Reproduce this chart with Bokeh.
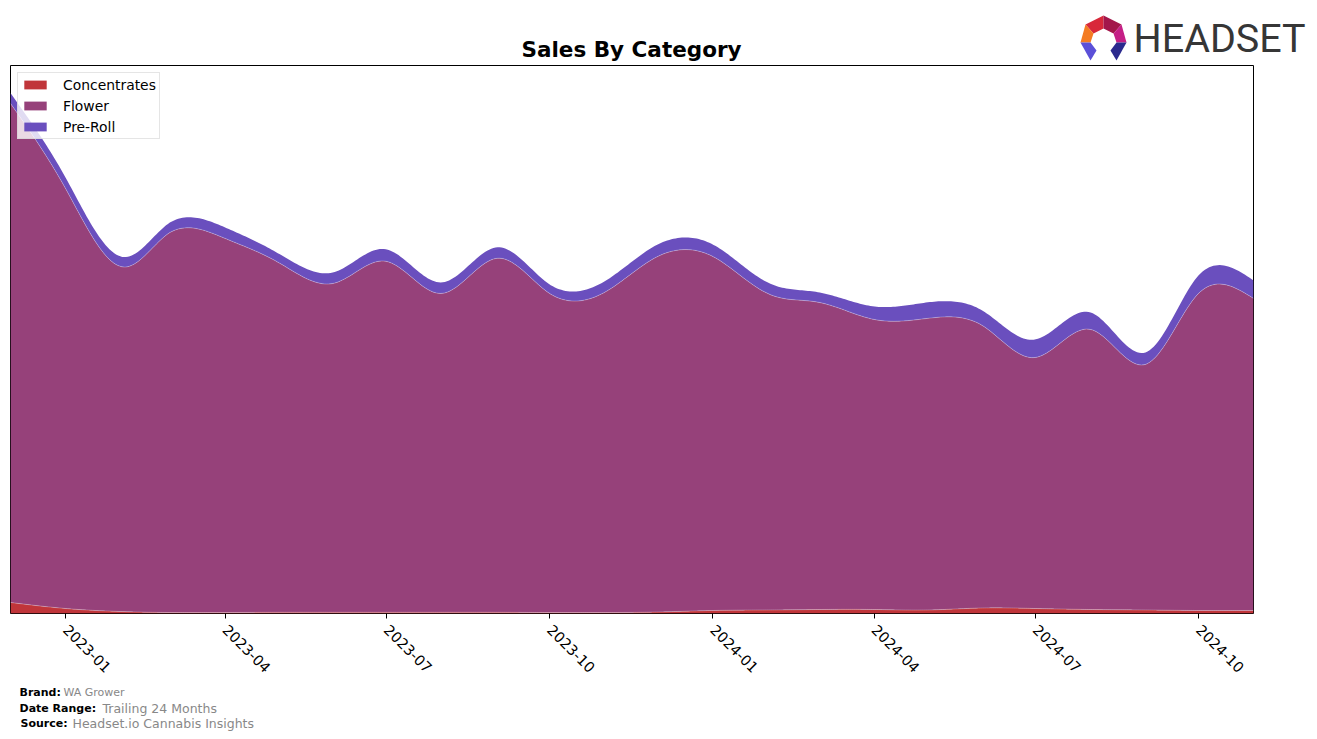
import numpy as np
import pandas as pd
from bokeh.plotting import figure
from bokeh.layouts import column
from bokeh.models import FixedTicker, DatetimeTickFormatter, Range1d, Legend, LegendItem
from bokeh.core.properties import value
from bokeh.embed import file_html
from bokeh.resources import INLINE

# ---------------- data ----------------
months = ["2022-12", "2023-01", "2023-02", "2023-03", "2023-04", "2023-05", "2023-06",
          "2023-07", "2023-08", "2023-09", "2023-10", "2023-11", "2023-12", "2024-01",
          "2024-02", "2024-03", "2024-04", "2024-05", "2024-06", "2024-07", "2024-08",
          "2024-09", "2024-10", "2024-11"]
concentrates = [1100, 500, 200, 100, 100, 120, 120, 120, 120, 120, 100, 100,
                150, 300, 350, 400, 400, 350, 550, 500, 400, 350, 300, 300]
flower = [49900, 42000, 34500, 38000, 37400, 34980, 32880, 35080, 31880, 35380, 31900, 32000,
          35550, 35400, 31650, 30700, 29000, 29150, 28250, 25100, 28000, 24550, 31700, 31200]
pre_roll = [1030, 1100, 1000, 1000, 1100, 900, 1100, 1200, 1100, 1100, 900, 1100,
            1200, 1200, 1100, 1000, 1300, 1600, 1500, 1800, 1700, 1200, 1800, 1800]
categories = ["Concentrates", "Flower", "Pre-Roll"]
colors = ["#C0353A", "#96417A", "#6A4FBE"]
tick_labels = ["2023-01", "2023-04", "2023-07", "2023-10", "2024-01", "2024-04", "2024-07", "2024-10"]

W, H = 1317, 739
TOP_H, FOOT_H = 64, 59
MAIN_H = H - TOP_H - FOOT_H

# ---------------- smoothing (natural cubic spline through monthly values) ----------------
def spline(y, t):
    y = np.asarray(y, float)
    n = len(y)
    A = np.zeros((n, n)); b = np.zeros(n)
    A[0, 0] = 1; A[-1, -1] = 1
    for i in range(1, n - 1):
        A[i, i - 1] = 1; A[i, i] = 4; A[i, i + 1] = 1
        b[i] = 6 * (y[i + 1] - 2 * y[i] + y[i - 1])
    M = np.linalg.solve(A, b)
    i = np.clip(np.floor(t).astype(int), 0, n - 2)
    u = t - i
    return ((1 - u) * y[i] + u * y[i + 1]
            + ((1 - u) ** 3 - (1 - u)) * M[i] / 6 + (u ** 3 - u) * M[i + 1] / 6)

dates = pd.to_datetime(months)
ms = dates.values.astype("datetime64[ms]").astype(np.int64).astype(float)
idx = np.arange(len(months))
t = np.linspace(0, len(months) - 1, 600)
xs = np.interp(t, idx, ms)

c_s = np.clip(spline(concentrates, t), 0, None)
f_s = np.clip(spline(flower, t), 0, None)
p_s = np.clip(spline(pre_roll, t), 0, None)
b1 = c_s
b2 = c_s + f_s
b3 = b2 + p_s

total_max = max(np.array(concentrates) + np.array(flower) + np.array(pre_roll))

# ---------------- header figure (title + logo) ----------------
top = figure(width=W, height=TOP_H, output_backend="svg", toolbar_location=None,
             x_axis_location=None, y_axis_location=None,
             x_range=Range1d(0, W), y_range=Range1d(TOP_H, 0),
             min_border=0, outline_line_color=None, frame_align=False)
top.grid.visible = False
top.text(x=[631], y=[49], text=["Sales By Category"], text_font=value("DejaVu Sans"),
         text_font_size="21.5px", text_font_style="bold", text_color="black",
         text_align="center", text_baseline="alphabetic")
top.text(x=[1133], y=[38], text=["HEADSET"], text_font=value("Roboto"),
         text_font_size="39.5px", text_color="#363636",
         text_align="left", text_baseline="alphabetic")
logo_parts = [
    ([1085, 1103, 1103, 1093], [24, 15, 28, 33], "#D8283A"),
    ([1103, 1121, 1113, 1103], [15, 24, 33, 28], "#A3164B"),
    ([1080, 1085, 1093, 1090], [42, 24, 33, 42], "#F47B22"),
    ([1121, 1126, 1116, 1113], [24, 42, 42, 33], "#C51F86"),
    ([1080, 1090, 1096, 1090], [42, 42, 50, 60], "#5B50D8"),
    ([1126, 1116, 1110, 1116], [42, 42, 50, 60], "#2B2A8E"),
]
for lx, ly, lc in logo_parts:
    top.patch(x=lx, y=ly, fill_color=lc, line_color=None)

# ---------------- main chart ----------------
p = figure(width=W, height=MAIN_H, output_backend="svg", toolbar_location=None,
           x_axis_type="datetime", y_axis_location=None,
           x_range=Range1d(ms[0], ms[-1]), y_range=Range1d(0, total_max * 1.053),
           min_border_left=10, min_border_right=64, min_border_top=1,
           min_border_bottom=MAIN_H - 1 - 548, frame_align=False)
p.outline_line_color = "black"
p.outline_line_width = 1
p.outline_line_alpha = 1
p.xgrid.visible = False
p.ygrid.visible = False

r1 = p.varea(x=xs, y1=np.zeros_like(xs), y2=b1, fill_color=colors[0])
r2 = p.varea(x=xs, y1=b1, y2=b2, fill_color=colors[1])
r3 = p.varea(x=xs, y1=b2, y2=b3, fill_color=colors[2])
p.line(x=xs, y=b1, line_color="white", line_alpha=0.35, line_width=0.8)
p.line(x=xs, y=b2, line_color="white", line_alpha=0.35, line_width=0.8)

ticks = pd.to_datetime(tick_labels).values.astype("datetime64[ms]").astype(np.int64).astype(float)
ax = p.xaxis[0]
ax.ticker = FixedTicker(ticks=list(ticks))
ax.formatter = DatetimeTickFormatter(days="%Y-%m", months="%Y-%m", years="%Y-%m")
ax.major_label_orientation = -np.pi / 4
ax.major_label_text_font = "DejaVu Sans"
ax.major_label_text_font_size = "14.5px"
ax.major_label_text_color = "black"
ax.major_tick_out = 5
ax.major_tick_in = 0
ax.minor_tick_line_color = None
ax.axis_line_color = None
ax.major_tick_line_color = "black"
ax.major_label_standoff = 9

legend = Legend(items=[LegendItem(label=categories[0], renderers=[r1]),
                       LegendItem(label=categories[1], renderers=[r2]),
                       LegendItem(label=categories[2], renderers=[r3])],
                location="top_left")
legend.margin = 7
legend.padding = 3
legend.spacing = 4
legend.glyph_width = 28
legend.glyph_height = 11
legend.label_height = 17
legend.label_standoff = 14
legend.label_text_font = "DejaVu Sans"
legend.label_text_font_size = "13.9px"
legend.label_text_color = "black"
legend.border_line_color = "#cccccc"
legend.background_fill_alpha = 0.8
p.add_layout(legend, "center")

# ---------------- footer figure ----------------
foot = figure(width=W, height=FOOT_H, output_backend="svg", toolbar_location=None,
              x_axis_location=None, y_axis_location=None,
              x_range=Range1d(0, W), y_range=Range1d(FOOT_H, 0),
              min_border=0, outline_line_color=None, frame_align=False)
foot.grid.visible = False
OFF = H - FOOT_H
foot.text(x=[19, 19, 20], y=[692 - OFF, 708 - OFF, 723 - OFF],
          text=["Brand:", "Date Range:", "Source:"], text_font=value("DejaVu Sans"),
          text_font_size="11px", text_font_style="bold", text_color="black",
          text_align="left", text_baseline="alphabetic")
foot.text(x=[63], y=[692 - OFF], text=["WA Grower"], text_font=value("DejaVu Sans"),
          text_font_size="11px", text_color="#888888", text_align="left", text_baseline="alphabetic")
foot.text(x=[102, 72], y=[708 - OFF, 723 - OFF], text=["Trailing 24 Months", "Headset.io Cannabis Insights"],
          text_font=value("DejaVu Sans"), text_font_size="12.5px", text_color="#888888",
          text_align="left", text_baseline="alphabetic")

layout = column(top, p, foot, spacing=0)
open("out.html", "w").write(file_html(layout, INLINE))
